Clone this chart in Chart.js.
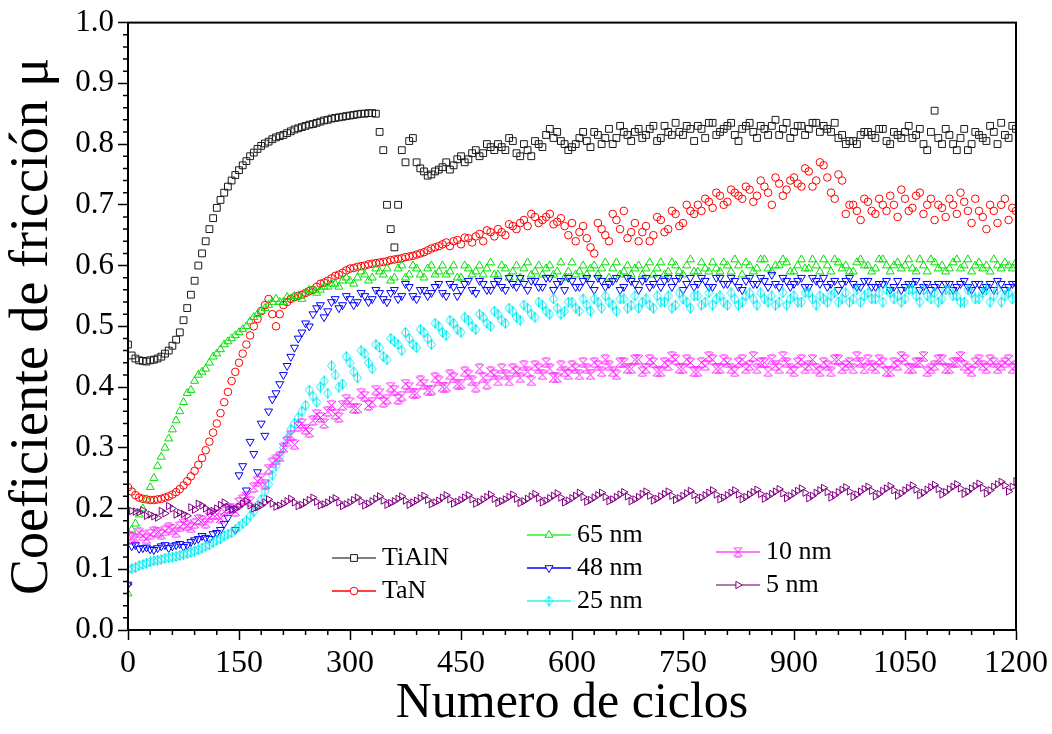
<!DOCTYPE html>
<html>
<head>
<meta charset="utf-8">
<script src="https://cdn.jsdelivr.net/npm/chart.js@4.4.0/dist/chart.umd.min.js"></script>
<style>
  html, body { margin: 0; padding: 0; background: #fff; }
</style>
</head>
<body>
<canvas id="friccion" width="1052" height="734"></canvas>
<script>
// readings every 10 cycles (0..1200) and the ones in between (5..1195)
const cycles = Array.from({ length: 121 }, (_, i) => i * 10);
const cyclesMid = Array.from({ length: 120 }, (_, i) => i * 10 + 5);

const tialn = [
  0.470, 0.447, 0.443, 0.444, 0.447, 0.455, 0.468, 0.490, 0.530, 0.575,
  0.620, 0.660, 0.695, 0.720, 0.740, 0.757, 0.772, 0.786, 0.797, 0.804,
  0.811, 0.815, 0.821, 0.826, 0.830, 0.833, 0.837, 0.840, 0.843, 0.845,
  0.847, 0.849, 0.850, 0.851, 0.820, 0.700, 0.630, 0.790, 0.805, 0.770,
  0.755, 0.750, 0.758, 0.770, 0.765, 0.780, 0.775, 0.790, 0.785, 0.795,
  0.800, 0.790, 0.805, 0.780, 0.790, 0.805, 0.795, 0.825, 0.820, 0.800,
  0.795, 0.810, 0.805, 0.820, 0.800, 0.825, 0.810, 0.820, 0.805, 0.825,
  0.815, 0.830, 0.810, 0.820, 0.835, 0.815, 0.825, 0.830, 0.810, 0.835,
  0.820, 0.830, 0.815, 0.825, 0.835, 0.810, 0.825, 0.830, 0.815, 0.835,
  0.820, 0.830, 0.825, 0.835, 0.830, 0.820, 0.810, 0.800, 0.805, 0.815,
  0.820, 0.810, 0.825, 0.800, 0.815, 0.820, 0.810, 0.825, 0.790, 0.855,
  0.800, 0.815, 0.790, 0.825, 0.800, 0.815, 0.805, 0.820, 0.835, 0.810,
  0.825
];
const tialnMid = [
  0.452, 0.444, 0.442, 0.445, 0.450, 0.460, 0.478, 0.510, 0.552, 0.600,
  0.640, 0.678, 0.708, 0.730, 0.749, 0.765, 0.780, 0.792, 0.801, 0.808,
  0.813, 0.818, 0.824, 0.828, 0.832, 0.835, 0.839, 0.842, 0.844, 0.846,
  0.848, 0.850, 0.851, 0.850, 0.790, 0.660, 0.700, 0.770, 0.810, 0.760,
  0.748, 0.755, 0.762, 0.758, 0.775, 0.770, 0.785, 0.780, 0.800, 0.790,
  0.795, 0.810, 0.785, 0.800, 0.780, 0.800, 0.815, 0.810, 0.805, 0.790,
  0.800, 0.820, 0.795, 0.815, 0.810, 0.800, 0.830, 0.815, 0.820, 0.810,
  0.825, 0.805, 0.830, 0.815, 0.820, 0.830, 0.805, 0.825, 0.835, 0.815,
  0.825, 0.835, 0.805, 0.830, 0.820, 0.830, 0.815, 0.840, 0.825, 0.810,
  0.830, 0.815, 0.835, 0.820, 0.825, 0.835, 0.815, 0.805, 0.800, 0.820,
  0.815, 0.825, 0.805, 0.820, 0.810, 0.830, 0.815, 0.800, 0.820, 0.810,
  0.825, 0.800, 0.810, 0.790, 0.820, 0.810, 0.830, 0.800, 0.815, 0.830
];
const tan = [
  0.235, 0.222, 0.216, 0.214, 0.215, 0.218, 0.223, 0.232, 0.245, 0.262,
  0.283, 0.310, 0.340, 0.375, 0.410, 0.440, 0.470, 0.500, 0.525, 0.545,
  0.500, 0.535, 0.545, 0.550, 0.555, 0.560, 0.570, 0.575, 0.583, 0.588,
  0.595, 0.598, 0.600, 0.603, 0.605, 0.607, 0.610, 0.612, 0.615, 0.618,
  0.622, 0.628, 0.632, 0.638, 0.640, 0.635, 0.645, 0.648, 0.640, 0.655,
  0.660, 0.650, 0.665, 0.670, 0.665, 0.680, 0.675, 0.685, 0.672, 0.665,
  0.670, 0.655, 0.645, 0.620, 0.660, 0.640, 0.675, 0.690, 0.655, 0.640,
  0.665, 0.650, 0.675, 0.660, 0.685, 0.670, 0.690, 0.700, 0.710, 0.695,
  0.715, 0.705, 0.720, 0.710, 0.725, 0.715, 0.730, 0.700, 0.735, 0.725,
  0.745, 0.730, 0.755, 0.740, 0.765, 0.720, 0.750, 0.685, 0.700, 0.675,
  0.705, 0.685, 0.700, 0.715, 0.680, 0.710, 0.695, 0.720, 0.700, 0.675,
  0.695, 0.710, 0.685, 0.705, 0.670, 0.690, 0.660, 0.690, 0.700, 0.675,
  0.690
];
const tanMid = [
  0.228, 0.218, 0.215, 0.214, 0.216, 0.220, 0.227, 0.238, 0.253, 0.272,
  0.296, 0.325, 0.357, 0.392, 0.425, 0.455, 0.485, 0.512, 0.535, 0.520,
  0.520, 0.540, 0.548, 0.552, 0.558, 0.565, 0.572, 0.579, 0.585, 0.592,
  0.596, 0.599, 0.602, 0.604, 0.606, 0.609, 0.611, 0.614, 0.616, 0.620,
  0.625, 0.630, 0.635, 0.632, 0.642, 0.646, 0.638, 0.652, 0.658, 0.648,
  0.655, 0.668, 0.660, 0.675, 0.685, 0.670, 0.680, 0.668, 0.678, 0.650,
  0.640, 0.665, 0.630, 0.670, 0.650, 0.685, 0.660, 0.645, 0.670, 0.655,
  0.640, 0.680, 0.655, 0.690, 0.665, 0.700, 0.685, 0.690, 0.705, 0.720,
  0.700, 0.725, 0.715, 0.730, 0.705, 0.740, 0.720, 0.745, 0.715, 0.740,
  0.735, 0.760, 0.730, 0.770, 0.745, 0.710, 0.740, 0.700, 0.690, 0.710,
  0.690, 0.710, 0.690, 0.700, 0.725, 0.690, 0.715, 0.685, 0.710, 0.700,
  0.680, 0.700, 0.720, 0.690, 0.710, 0.680, 0.700, 0.670, 0.710, 0.695
];
const nm65 = [
  0.060, 0.175, 0.200, 0.235, 0.270, 0.300, 0.330, 0.360, 0.390, 0.410,
  0.425, 0.440, 0.455, 0.470, 0.480, 0.490, 0.500, 0.515, 0.525, 0.535,
  0.545, 0.540, 0.545, 0.550, 0.555, 0.560, 0.560, 0.565, 0.570, 0.575,
  0.575, 0.580, 0.585, 0.580, 0.590, 0.595, 0.580, 0.600, 0.585, 0.595,
  0.580, 0.600, 0.590, 0.585, 0.600, 0.580, 0.595, 0.590, 0.585, 0.605,
  0.585, 0.595, 0.590, 0.580, 0.605, 0.590, 0.585, 0.600, 0.590, 0.580,
  0.605, 0.590, 0.585, 0.600, 0.595, 0.580, 0.605, 0.590, 0.585, 0.600,
  0.595, 0.585, 0.605, 0.590, 0.600, 0.585, 0.610, 0.590, 0.595, 0.605,
  0.590, 0.600, 0.610, 0.585, 0.600, 0.595, 0.610, 0.590, 0.600, 0.605,
  0.590, 0.610, 0.595, 0.600, 0.610, 0.590, 0.605, 0.600, 0.590, 0.610,
  0.600, 0.595, 0.610, 0.590, 0.605, 0.600, 0.595, 0.610, 0.590, 0.605,
  0.600, 0.595, 0.610, 0.600, 0.590, 0.605, 0.600, 0.610, 0.595, 0.600,
  0.605
];
const nm65Mid = [
  0.165, 0.190, 0.215, 0.250, 0.285, 0.315, 0.345, 0.375, 0.395, 0.420,
  0.430, 0.450, 0.462, 0.475, 0.485, 0.495, 0.508, 0.520, 0.530, 0.540,
  0.540, 0.548, 0.550, 0.545, 0.560, 0.555, 0.565, 0.570, 0.565, 0.580,
  0.570, 0.590, 0.575, 0.595, 0.585, 0.575, 0.595, 0.580, 0.600, 0.585,
  0.595, 0.585, 0.600, 0.590, 0.580, 0.600, 0.585, 0.600, 0.595, 0.585,
  0.600, 0.580, 0.600, 0.595, 0.585, 0.600, 0.595, 0.585, 0.605, 0.590,
  0.585, 0.600, 0.595, 0.585, 0.605, 0.595, 0.585, 0.600, 0.595, 0.585,
  0.605, 0.595, 0.585, 0.605, 0.590, 0.600, 0.590, 0.605, 0.590, 0.595,
  0.605, 0.590, 0.600, 0.605, 0.590, 0.610, 0.595, 0.600, 0.610, 0.590,
  0.600, 0.595, 0.610, 0.590, 0.600, 0.610, 0.595, 0.590, 0.605, 0.600,
  0.590, 0.610, 0.600, 0.600, 0.595, 0.610, 0.590, 0.600, 0.610, 0.595,
  0.590, 0.605, 0.595, 0.610, 0.600, 0.595, 0.590, 0.600, 0.605, 0.595
];
const nm48 = [
  0.075, 0.140, 0.135, 0.133, 0.135, 0.140, 0.138, 0.142, 0.140, 0.148,
  0.155, 0.150, 0.160, 0.175, 0.200, 0.255, 0.230, 0.290, 0.340, 0.360,
  0.390, 0.420, 0.450, 0.480, 0.505, 0.520, 0.535, 0.525, 0.545, 0.535,
  0.545, 0.540, 0.550, 0.545, 0.555, 0.540, 0.560, 0.550, 0.565, 0.545,
  0.560, 0.555, 0.570, 0.550, 0.565, 0.560, 0.575, 0.555, 0.570, 0.560,
  0.575, 0.560, 0.570, 0.580, 0.560, 0.575, 0.565, 0.580, 0.570, 0.560,
  0.575, 0.565, 0.580, 0.560, 0.575, 0.570, 0.580, 0.565, 0.575, 0.560,
  0.580, 0.570, 0.565, 0.580, 0.575, 0.560, 0.580, 0.570, 0.575, 0.565,
  0.580, 0.570, 0.575, 0.560, 0.580, 0.570, 0.575, 0.585, 0.565, 0.575,
  0.570, 0.580, 0.565, 0.575, 0.580, 0.570, 0.560, 0.575, 0.570, 0.565,
  0.575, 0.565, 0.570, 0.560, 0.575, 0.565, 0.570, 0.560, 0.570, 0.565,
  0.560, 0.570, 0.565, 0.575, 0.560, 0.570, 0.565, 0.560, 0.570, 0.565,
  0.570
];
const nm48Mid = [
  0.138, 0.134, 0.136, 0.132, 0.138, 0.135, 0.140, 0.137, 0.145, 0.150,
  0.152, 0.158, 0.165, 0.185, 0.165, 0.270, 0.310, 0.260, 0.320, 0.380,
  0.405, 0.435, 0.465, 0.490, 0.500, 0.530, 0.515, 0.540, 0.530, 0.550,
  0.535, 0.555, 0.540, 0.560, 0.545, 0.555, 0.545, 0.570, 0.550, 0.560,
  0.550, 0.565, 0.555, 0.570, 0.550, 0.570, 0.560, 0.575, 0.560, 0.570,
  0.565, 0.580, 0.565, 0.570, 0.575, 0.565, 0.580, 0.560, 0.575, 0.580,
  0.565, 0.575, 0.570, 0.580, 0.565, 0.575, 0.560, 0.580, 0.570, 0.575,
  0.565, 0.580, 0.575, 0.565, 0.580, 0.570, 0.565, 0.580, 0.565, 0.580,
  0.570, 0.580, 0.565, 0.575, 0.570, 0.580, 0.565, 0.570, 0.580, 0.565,
  0.575, 0.565, 0.580, 0.570, 0.565, 0.575, 0.570, 0.580, 0.565, 0.575,
  0.565, 0.570, 0.575, 0.565, 0.560, 0.570, 0.575, 0.565, 0.560, 0.570,
  0.570, 0.560, 0.570, 0.565, 0.570, 0.560, 0.570, 0.575, 0.560, 0.570
];
const nm25 = [
  0.100, 0.103, 0.108, 0.112, 0.115, 0.118, 0.120, 0.123, 0.126, 0.130,
  0.135, 0.140, 0.148, 0.155, 0.160, 0.170, 0.180, 0.195, 0.215, 0.240,
  0.270, 0.300, 0.330, 0.350, 0.370, 0.385, 0.400, 0.390, 0.420, 0.405,
  0.440, 0.415, 0.455, 0.430, 0.465, 0.445, 0.475, 0.460, 0.480, 0.465,
  0.490, 0.470, 0.500, 0.485, 0.505, 0.490, 0.510, 0.495, 0.515, 0.500,
  0.520, 0.505, 0.525, 0.510, 0.530, 0.515, 0.535, 0.520, 0.530, 0.525,
  0.540, 0.525, 0.535, 0.545, 0.530, 0.540, 0.525, 0.545, 0.535, 0.530,
  0.545, 0.530, 0.540, 0.550, 0.535, 0.545, 0.530, 0.550, 0.540, 0.535,
  0.550, 0.535, 0.545, 0.540, 0.555, 0.535, 0.545, 0.550, 0.540, 0.535,
  0.550, 0.540, 0.555, 0.535, 0.545, 0.550, 0.540, 0.555, 0.545, 0.540,
  0.555, 0.545, 0.540, 0.555, 0.550, 0.545, 0.560, 0.540, 0.550, 0.555,
  0.545, 0.560, 0.550, 0.540, 0.555, 0.545, 0.560, 0.550, 0.540, 0.555,
  0.550
];
const nm25Mid = [
  0.101, 0.106, 0.110, 0.114, 0.116, 0.119, 0.121, 0.125, 0.128, 0.132,
  0.138, 0.144, 0.150, 0.158, 0.165, 0.175, 0.188, 0.205, 0.228, 0.255,
  0.285, 0.315, 0.340, 0.360, 0.395, 0.375, 0.410, 0.435, 0.400, 0.450,
  0.425, 0.460, 0.440, 0.470, 0.450, 0.480, 0.470, 0.490, 0.470, 0.495,
  0.480, 0.505, 0.490, 0.510, 0.495, 0.515, 0.500, 0.520, 0.505, 0.525,
  0.510, 0.530, 0.515, 0.535, 0.520, 0.540, 0.525, 0.545, 0.520, 0.540,
  0.530, 0.545, 0.525, 0.540, 0.550, 0.535, 0.545, 0.530, 0.550, 0.540,
  0.535, 0.550, 0.540, 0.530, 0.555, 0.540, 0.550, 0.535, 0.555, 0.545,
  0.540, 0.555, 0.535, 0.550, 0.545, 0.555, 0.540, 0.535, 0.555, 0.545,
  0.540, 0.555, 0.545, 0.550, 0.540, 0.555, 0.545, 0.540, 0.560, 0.550,
  0.545, 0.555, 0.560, 0.545, 0.540, 0.560, 0.550, 0.560, 0.545, 0.540,
  0.560, 0.550, 0.540, 0.560, 0.545, 0.555, 0.540, 0.560, 0.550, 0.545
];
const nm10 = [
  0.155, 0.150, 0.155, 0.158, 0.160, 0.163, 0.165, 0.170, 0.172, 0.175,
  0.180, 0.185, 0.190, 0.195, 0.200, 0.210, 0.220, 0.235, 0.250, 0.265,
  0.280, 0.300, 0.320, 0.335, 0.330, 0.345, 0.350, 0.360, 0.355, 0.370,
  0.375, 0.365, 0.385, 0.375, 0.390, 0.380, 0.395, 0.385, 0.400, 0.390,
  0.405, 0.395, 0.410, 0.400, 0.415, 0.405, 0.420, 0.400, 0.415, 0.425,
  0.410, 0.420, 0.430, 0.415, 0.425, 0.435, 0.420, 0.430, 0.415, 0.425,
  0.435, 0.420, 0.430, 0.440, 0.425, 0.435, 0.420, 0.440, 0.430, 0.445,
  0.430, 0.440, 0.425, 0.435, 0.445, 0.430, 0.440, 0.425, 0.435, 0.445,
  0.430, 0.440, 0.425, 0.445, 0.435, 0.430, 0.440, 0.445, 0.430, 0.440,
  0.425, 0.445, 0.435, 0.430, 0.440, 0.425, 0.445, 0.435, 0.430, 0.440,
  0.445, 0.430, 0.440, 0.425, 0.435, 0.445, 0.430, 0.440, 0.425, 0.435,
  0.445, 0.430, 0.440, 0.435, 0.425, 0.445, 0.430, 0.440, 0.435, 0.445,
  0.435
];
const nm10Mid = [
  0.152, 0.160, 0.150, 0.162, 0.157, 0.168, 0.160, 0.175, 0.168, 0.182,
  0.176, 0.190, 0.184, 0.200, 0.195, 0.215, 0.212, 0.245, 0.240, 0.275,
  0.285, 0.310, 0.305, 0.340, 0.325, 0.355, 0.340, 0.370, 0.350, 0.380,
  0.365, 0.390, 0.370, 0.395, 0.375, 0.400, 0.380, 0.405, 0.390, 0.410,
  0.395, 0.415, 0.400, 0.420, 0.405, 0.425, 0.410, 0.430, 0.405, 0.420,
  0.430, 0.410, 0.425, 0.435, 0.410, 0.430, 0.440, 0.415, 0.435, 0.420,
  0.430, 0.440, 0.420, 0.435, 0.445, 0.425, 0.440, 0.430, 0.445, 0.425,
  0.445, 0.425, 0.440, 0.450, 0.430, 0.445, 0.425, 0.440, 0.450, 0.430,
  0.445, 0.430, 0.440, 0.430, 0.450, 0.440, 0.425, 0.435, 0.450, 0.430,
  0.440, 0.430, 0.445, 0.425, 0.435, 0.445, 0.430, 0.440, 0.450, 0.430,
  0.435, 0.445, 0.425, 0.440, 0.450, 0.430, 0.440, 0.450, 0.430, 0.445,
  0.430, 0.440, 0.450, 0.430, 0.440, 0.435, 0.445, 0.430, 0.440, 0.430
];
const nm5 = [
  0.075, 0.195, 0.197, 0.190, 0.185, 0.192, 0.200, 0.193, 0.188, 0.198,
  0.205, 0.195, 0.200, 0.210, 0.198, 0.203, 0.212, 0.200, 0.205, 0.215,
  0.203, 0.208, 0.216, 0.204, 0.210, 0.218, 0.205, 0.210, 0.217, 0.204,
  0.210, 0.218, 0.205, 0.212, 0.220, 0.206, 0.212, 0.220, 0.206, 0.213,
  0.221, 0.207, 0.213, 0.222, 0.208, 0.214, 0.222, 0.208, 0.215, 0.223,
  0.209, 0.215, 0.223, 0.209, 0.216, 0.224, 0.210, 0.217, 0.225, 0.210,
  0.217, 0.226, 0.211, 0.218, 0.226, 0.212, 0.219, 0.227, 0.212, 0.219,
  0.228, 0.213, 0.220, 0.228, 0.214, 0.221, 0.229, 0.214, 0.222, 0.230,
  0.215, 0.222, 0.230, 0.215, 0.223, 0.231, 0.216, 0.224, 0.232, 0.217,
  0.225, 0.233, 0.217, 0.226, 0.234, 0.218, 0.227, 0.235, 0.219, 0.228,
  0.236, 0.220, 0.229, 0.237, 0.221, 0.230, 0.238, 0.222, 0.231, 0.239,
  0.223, 0.232, 0.240, 0.224, 0.233, 0.241, 0.225, 0.236, 0.244, 0.228,
  0.245
];
const nm5Mid = [
  0.196, 0.194, 0.188, 0.187, 0.196, 0.204, 0.190, 0.191, 0.202, 0.208,
  0.200, 0.196, 0.206, 0.202, 0.199, 0.208, 0.205, 0.202, 0.210, 0.208,
  0.205, 0.212, 0.210, 0.206, 0.214, 0.211, 0.207, 0.214, 0.210, 0.207,
  0.214, 0.212, 0.208, 0.216, 0.213, 0.209, 0.216, 0.213, 0.210, 0.217,
  0.214, 0.210, 0.218, 0.215, 0.211, 0.218, 0.215, 0.211, 0.219, 0.216,
  0.212, 0.219, 0.216, 0.212, 0.220, 0.217, 0.213, 0.221, 0.218, 0.213,
  0.221, 0.219, 0.214, 0.222, 0.219, 0.215, 0.223, 0.220, 0.215, 0.224,
  0.221, 0.216, 0.224, 0.221, 0.217, 0.225, 0.222, 0.218, 0.226, 0.223,
  0.218, 0.226, 0.223, 0.219, 0.227, 0.224, 0.220, 0.228, 0.225, 0.221,
  0.229, 0.226, 0.221, 0.230, 0.227, 0.222, 0.231, 0.228, 0.223, 0.232,
  0.229, 0.224, 0.233, 0.230, 0.225, 0.234, 0.231, 0.226, 0.235, 0.232,
  0.227, 0.236, 0.233, 0.228, 0.237, 0.234, 0.230, 0.240, 0.238, 0.236
];

const xTicks = [0, 150, 300, 450, 600, 750, 900, 1050, 1200];

const FONT = "'Liberation Serif', 'Times New Roman', serif";

// small hand drawn markers for the two symbols Chart.js lacks
function marker(color, draw) {
  const c = document.createElement('canvas');
  c.width = 11; c.height = 11;
  const g = c.getContext('2d');
  g.strokeStyle = color;
  g.lineWidth = 1;
  g.beginPath();
  draw(g);
  g.stroke();
  return c;
}
const diamondBar = marker('#00e8f0', g => {
  g.moveTo(5.5, 0.5); g.lineTo(9.5, 5.5); g.lineTo(5.5, 10.5); g.lineTo(1.5, 5.5); g.closePath();
  g.moveTo(5.5, 0.5); g.lineTo(5.5, 10.5);
});
const bowtie = marker('#ff00ff', g => {
  g.moveTo(1, 1); g.lineTo(10, 10);
  g.moveTo(10, 1); g.lineTo(1, 10);
  g.moveTo(2.5, 1); g.lineTo(8.5, 1);
  g.moveTo(2.5, 10); g.lineTo(8.5, 10);
});

const series = [
  { label: 'TiAlN', values: tialn, mid: tialnMid, color: '#1a1a1a', line: '#555555', style: 'rect', radius: 4.8, rotation: 0, lw: 1.5 },
  { label: 'TaN', values: tan, mid: tanMid, color: '#ff0000', line: '#ff0000', style: 'circle', radius: 3.8, rotation: 0, lw: 1.5 },
  { label: '65 nm', values: nm65, mid: nm65Mid, color: '#00e000', line: '#33ee33', style: 'triangle', radius: 4.6, rotation: 0, lw: 1.5 },
  { label: '48 nm', values: nm48, mid: nm48Mid, color: '#0000ff', line: '#0000ff', style: 'triangle', radius: 4.6, rotation: 180, lw: 1.5 },
  { label: '25 nm', values: nm25, mid: nm25Mid, color: '#00e8f0', line: '#33f0f0', style: diamondBar, radius: 5, rotation: 0, lw: 1.5 },
  { label: '10 nm', values: nm10, mid: nm10Mid, color: '#ff00ff', line: '#ff77ff', style: bowtie, radius: 5, rotation: 0, lw: 2 },
  { label: '5 nm', values: nm5, mid: nm5Mid, color: '#800080', line: '#9a4a9a', style: 'triangle', radius: 4.2, rotation: 90, lw: 1.5 }
];

const legendSlots = [
  { x: 332, y: 558 }, { x: 332, y: 591 },
  { x: 527, y: 535 }, { x: 527, y: 568 }, { x: 527, y: 601 },
  { x: 716, y: 552 }, { x: 716, y: 585 }
];

const frame = {
  id: 'frame',
  afterDatasetsDraw(chart) {
    const ctx = chart.ctx;
    ctx.save();
    series.forEach((s, i) => {
      const p = legendSlots[i];
      ctx.strokeStyle = s.line;
      ctx.lineWidth = s.lw;
      ctx.beginPath();
      ctx.moveTo(p.x, p.y);
      ctx.lineTo(p.x + 44, p.y);
      ctx.stroke();
      ctx.fillStyle = '#ffffff';
      ctx.strokeStyle = s.color;
      ctx.lineWidth = 1;
      Chart.helpers.drawPoint(ctx, { pointStyle: s.style, radius: s.radius, rotation: s.rotation, borderWidth: 1 }, p.x + 22, p.y);
      ctx.fillStyle = '#000';
      ctx.font = '26px ' + FONT;
      ctx.textBaseline = 'middle';
      ctx.textAlign = 'left';
      ctx.fillText(s.label, p.x + 50, p.y);
    });
    ctx.restore();
  },
  afterDraw(chart) {
    const { ctx, chartArea: a, scales: { x, y } } = chart;
    ctx.save();
    ctx.strokeStyle = '#000';
    ctx.lineWidth = 2;
    ctx.strokeRect(a.left, a.top, a.right - a.left, a.bottom - a.top);
    ctx.lineWidth = 1.5;
    ctx.beginPath();
    for (let v = 30; v < 1200; v += 30) {
      if (v % 150 === 0) continue;
      const px = x.getPixelForValue(v);
      ctx.moveTo(px, a.bottom);
      ctx.lineTo(px, a.bottom + 5);
    }
    for (let k = 1; k < 50; k++) {
      if (k % 5 === 0) continue;
      const py = y.getPixelForValue(k / 50);
      ctx.moveTo(a.left, py);
      ctx.lineTo(a.left - 5, py);
    }
    ctx.stroke();
    ctx.restore();
  }
};

const ctx = document.getElementById('friccion').getContext('2d');
const chart = new Chart(ctx, {
  type: 'scatter',
  data: {
    datasets: series.map((s, i) => ({
      label: s.label,
      data: cycles.map((c, j) => ({ x: c, y: s.values[j] }))
        .concat(cyclesMid.map((c, j) => ({ x: c, y: s.mid[j] }))),
      showLine: false,
      pointStyle: s.style,
      pointRotation: s.rotation,
      pointRadius: s.radius,
      pointBorderWidth: 1,
      pointBorderColor: s.color,
      pointBackgroundColor: 'rgba(0,0,0,0)',
      order: series.length - i
    }))
  },
  options: {
    responsive: false,
    animation: false,
    layout: { padding: { top: 21, right: 36, left: 0, bottom: 0 } },
    plugins: { legend: { display: false }, tooltip: { enabled: false } },
    scales: {
      x: {
        type: 'linear',
        min: 0,
        max: 1200,
        afterBuildTicks: s => { s.ticks = xTicks.map(v => ({ value: v })); },
        afterFit: s => { s.height = 104; },
        ticks: { color: '#000', font: { family: FONT, size: 32 }, padding: 4, maxRotation: 0, callback: v => String(v) },
        grid: { drawOnChartArea: false, tickLength: 10, tickColor: '#000', tickWidth: 1.5 },
        border: { color: '#000', width: 2 },
        title: { display: true, text: 'Numero de ciclos', color: '#000', font: { family: FONT, size: 50 }, padding: 0 }
      },
      y: {
        min: 0,
        max: 1,
        afterFit: s => { s.width = 128; },
        ticks: { stepSize: 0.1, color: '#000', font: { family: FONT, size: 31 }, padding: 4, callback: v => v.toFixed(1) },
        grid: { drawOnChartArea: false, tickLength: 10, tickColor: '#000', tickWidth: 1.5 },
        border: { color: '#000', width: 2 },
        title: { display: true, text: 'Coeficiente de fricción μ', color: '#000', font: { family: FONT, size: 54 }, padding: 0 }
      }
    }
  },
  plugins: [frame]
});
</script>
</body>
</html>
